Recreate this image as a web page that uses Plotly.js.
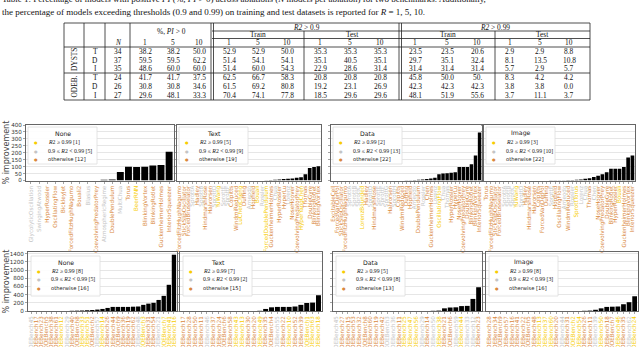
<!DOCTYPE html>
<html>
<head>
<meta charset="utf-8">
<script src="https://cdn.plot.ly/plotly-3.0.1.min.js"></script>
<style>
  html, body { margin: 0; padding: 0; background: #fff; }
  #chart { width: 640px; height: 347px; }
</style>
</head>
<body>
<div id="chart"></div>
<script>
// ---- table data ----
const groupNames = ['DYSTS', 'ODEB.'];
const ablations = ['T', 'D', 'I', 'T', 'D', 'I'];
const nModels = [34, 37, 35, 24, 26, 27];
const piPositive = [['38.2','38.2','50.0'],['59.5','59.5','62.2'],['48.6','60.0','60.0'],['41.7','41.7','37.5'],['30.8','30.8','34.6'],['29.6','48.1','33.3']];
const r2_09Train = [['52.9','52.9','50.0'],['51.4','54.1','54.1'],['51.4','60.0','54.3'],['62.5','66.7','58.3'],['61.5','69.2','80.8'],['70.4','74.1','77.8']];
const r2_09Test = [['35.3','35.3','35.3'],['35.1','40.5','35.1'],['22.9','28.6','31.4'],['20.8','20.8','20.8'],['19.2','23.1','26.9'],['18.5','29.6','29.6']];
const r2_099Train = [['23.5','23.5','20.6'],['29.7','35.1','32.4'],['31.4','31.4','31.4'],['45.8','50.0','50.'],['42.3','42.3','42.3'],['48.1','51.9','55.6']];
const r2_099Test = [['2.9','2.9','8.8'],['8.1','13.5','10.8'],['5.7','2.9','5.7'],['8.3','4.2','4.2'],['3.8','3.8','0.0'],['3.7','11.1','3.7']];
const rValues = ['1', '5', '10'];

// ---- bar data: DYSTS (top row) ----
const dystsNoneNames = ['GlycolyticOscillation','SwingingAtwood','HyperRossler','OscillatingFlow','BickleyJet','ForcedFitzHughNagumo','Bouali2','Blasius','CoevolvingPredatorPrey','AtmosphericRegime','DoublePendulum','MultiChua','Torus','BeerRNN','BlinkingVortex','BlinkingRotlet','GuckenheimerHolmes','InteriorSqueezer'];
const dystsNoneVals = [0,0,0,0,0,0,0,0,0,5,8,62,100,98,100,108,112,208];
const dystsNoneCats = ['g','g','o','o','o','o','o','g','o','g','o','g','o','y','o','o','o','o'];

const dystsTextNames = ['ForcedFitzHughNagumo','StickSlipOscillator','ForcedBrusselator','SprottA','Hadley','SprottB','HindmarshRose','Halvorsen','SprottD','YuWang','SprottE','SprottF','Colpitts','WindmiReduced','LuChenCheng','Duffing','Arneodo','Hopfield','Bouali','Rossler','ForcedDoublePendulum','GuckenheimerHolmes','Chua','HyperRossler','HyperLu','Lorenz','NoseHoover','CoevolvingPredatorPrey','HyperYangChen','Thomas','DoubleGyre','BlinkingRotlet','BlinkingVortex'];
const dystsTextVals = [0,0,0,0,0,0,0,0,0,0,0,0,0,0,0,0,0,0,0,0,1,3,5,8,10,12,14,20,24,45,90,97,102];
const dystsTextCats = ['o','o','o','g','o','g','o','o','g','y','g','g','o','o','y','o','g','o','y','g','y','o','g','o','o','g','o','o','y','o','o','o','o'];

const dystsDataNames = ['ExcitableCell','ForcedVanDerPol','StickSlipOscillator','ForcedFitzHughNagumo','SprottA','SprottB','SprottC','LorenzBounded','Hadley','SprottD','HindmarshRose','SprottE','SprottF','SprottG','Halvorsen','SprottH','Colpitts','WindmiReduced','Duffing','Hopfield','Arneodo','DoublePendulum','Rossler','Chen','GuckenheimerHolmes','Lorenz','OscillatingFlow','Chua','Thomas','HyperRossler','HyperLu','NoseHoover','CoevolvingPredatorPrey','DoubleGyre','BlinkingRotlet','BlinkingVortex','InteriorSqueezer'];
const dystsDataVals = [0,0,0,0,0,0,0,0,0,0,0,0,0,0,0,0,0,0,1,2,3,5,8,10,15,20,45,50,52,55,60,97,97,97,118,180,346];
const dystsDataCats = ['o','o','o','o','g','g','g','y','o','g','o','g','g','g','o','g','o','o','o','o','g','o','g','o','o','g','y','g','g','o','o','o','o','o','o','o','o'];

const dystsImageNames = ['Torus','ForcedFitzHughNagumo','StickSlipOscillator','ForcedBrusselator','SprottA','SprottB','SprottC','YuWang','SprottD','Hadley','HindmarshRose','Halvorsen','Colpitts','ForcedVanDerPol','Duffing','SprottE','Hopfield','OscillatingFlow','Arneodo','WindmiReduced','Rossler','SprottTorus','Lorenz','Chua','Thomas','Chen','NoseHoover','CoevolvingPredatorPrey','DoubleGyre','BlinkingRotlet','HyperRossler','Bouali','GuckenheimerHolmes','BlinkingVortex','InteriorSqueezer'];
const dystsImageVals = [0,0,0,0,0,0,0,0,0,0,0,0,0,0,0,1,1,2,2,3,4,5,8,12,17,25,35,45,60,85,85,85,97,165,181];
const dystsImageCats = ['o','o','o','o','g','g','g','y','g','o','o','o','o','o','o','g','o','o','g','o','g','y','g','g','o','g','o','o','o','o','o','y','o','o','o'];

// ---- bar data: ODEBench (bottom row) ----
const odeNoneIds = [45,17,23,5,38,61,12,29,40,8,33,51,2,57,14,26,44,9,36,19,62,48,3,31,54,21,7,41,16];
const odeNoneVals = [0,0,0,0,0,0,0,0,5,8,12,18,25,35,50,75,100,100,100,100,105,110,150,180,200,270,370,640,1375];
const odeNoneCats = ['g','o','o','o','o','o','y','g','o','o','y','y','o','g','y','o','o','o','o','o','o','g','y','o','o','g','y','y','y'];

const odeTextIds = [17,28,50,11,46,37,24,6,58,43,13,30,20,49,35,4,55,22,10,52,39,1,63,18];
const odeTextVals = [0,0,0,0,0,0,0,0,0,0,0,0,0,5,50,90,100,100,100,110,150,195,205,385];
const odeTextCats = ['o','o','o','o','g','o','o','o','o','y','y','o','o','y','o','o','g','o','y','o','o','y','y','y'];

const odeDataIds = [45,27,15,53,32,8,60,19,42,3,36,11,25,47,56,29,14,50,38,21,6,59,44,33,12,23];
const odeDataVals = [0,0,0,0,0,0,0,0,0,0,0,0,0,0,0,0,0,5,10,65,85,90,120,125,295,580];
const odeDataCats = ['g','o','o','o','o','o','o','o','o','g','g','o','y','y','y','g','o','g','y','o','o','g','y','g','g','o'];

const odeImageIds = [28,34,9,57,16,41,22,5,48,13,37,60,20,44,31,2,54,26,11,39,50,18,7,46,35,62,24];
const odeImageVals = [0,0,0,0,0,0,0,0,0,0,0,0,0,0,0,0,0,5,10,30,65,100,105,110,165,215,360];
const odeImageCats = ['o','o','o','o','o','o','o','o','o','y','y','y','o','g','o','y','y','o','o','g','y','o','o','y','o','g','y'];

const ablationTitles = ['None', 'Text', 'Data', 'Image'];
const topYTicks = [0,50,100,150,200,250,300,350,400];
const bottomYTicks = [0,200,400,600,800,1000,1200,1400];

// ---- layout helpers (pixel geometry of the page) ----
const W = 640, H = 347;
const px = v => v / W;
const py = v => 1 - v / H;

const YELLOW = '#F7CC00', GRAY = '#C4C4C4', ORANGE = '#D9883C';
const catColor = { y: YELLOW, g: GRAY, o: ORANGE };
const SANS = 'DejaVu Sans, sans-serif';
const SERIF = 'Liberation Serif, Times New Roman, serif';

const panels = [
  { names: dystsNoneNames, vals: dystsNoneVals, cats: dystsNoneCats },
  { names: dystsTextNames, vals: dystsTextVals, cats: dystsTextCats },
  { names: dystsDataNames, vals: dystsDataVals, cats: dystsDataCats },
  { names: dystsImageNames, vals: dystsImageVals, cats: dystsImageCats },
  { names: odeNoneIds.map(n => 'ODEBench' + n), vals: odeNoneVals, cats: odeNoneCats },
  { names: odeTextIds.map(n => 'ODEBench' + n), vals: odeTextVals, cats: odeTextCats },
  { names: odeDataIds.map(n => 'ODEBench' + n), vals: odeDataVals, cats: odeDataCats },
  { names: odeImageIds.map(n => 'ODEBench' + n), vals: odeImageVals, cats: odeImageCats },
];

// panel boxes in page pixels: [left, right, top, bottom]
const boxes = [
  [26,174,125,180.5],[177,321,125,180.5],[331,482,125,180.5],[484,635,125,180.5],
  [28,177,252,311],[180,322,252,311],[333,482,252,311],[486,638,252,311],
];

const data = [];
const layout = {
  width: W, height: H,
  margin: { l: 0, r: 0, t: 0, b: 0 },
  paper_bgcolor: '#fff', plot_bgcolor: '#fff',
  showlegend: false,
  bargap: 0.15,
  font: { family: SANS, color: '#333' },
  annotations: [], shapes: [],
};

panels.forEach((p, i) => {
  const k = i === 0 ? '' : String(i + 1);
  const b = boxes[i];
  const top = i < 4;
  data.push({
    type: 'bar', x: p.names, y: p.vals,
    xaxis: 'x' + k, yaxis: 'y' + k,
    marker: { color: '#000', line: { width: 0 } },
  });
  layout['xaxis' + k] = {
    domain: [px(b[0]), px(b[1])], anchor: 'y' + k,
    type: 'category', tickmode: 'array', tickvals: p.names,
    ticktext: p.names.map((n, j) => `<span style="color:${catColor[p.cats[j]]}">${n}</span>`),
    tickangle: -90, tickfont: { size: 5.6, family: SANS },
    ticks: 'outside', ticklen: 2, tickcolor: '#666', tickwidth: 0.6,
    showgrid: false, showline: true, linecolor: '#666', linewidth: 1, mirror: true,
    range: [-0.6, p.names.length - 0.4], fixedrange: true,
  };
  layout['yaxis' + k] = {
    domain: [py(b[3]), py(b[2])], anchor: 'x' + k,
    range: top ? [0, 400] : [0, 1441],
    tickmode: 'array', tickvals: top ? topYTicks : bottomYTicks,
    showticklabels: i === 0 || i === 4,
    tickfont: { size: 5.6, family: SANS, color: '#333' },
    ticks: 'outside', ticklen: 2, tickcolor: '#666', tickwidth: 0.6,
    showgrid: true, gridcolor: '#E0E0E0', gridwidth: 0.8,
    zeroline: false, showline: true, linecolor: '#666', linewidth: 1, mirror: true,
    fixedrange: true,
  };

  // legend box for the panel
  const lx = b[0] + (top ? 2 : 3), ly = b[2] + (top ? 2 : 4);
  const lw = 69, lh = top ? 37 : 40;
  layout.shapes.push({
    type: 'rect', xref: 'paper', yref: 'paper',
    x0: px(lx), x1: px(lx + lw), y0: py(ly), y1: py(ly + lh),
    fillcolor: 'rgba(255,255,255,0.9)', line: { color: '#DDDDDD', width: 0.8 },
  });
  layout.annotations.push({
    xref: 'paper', yref: 'paper', x: px(lx + lw / 2), y: py(ly + 6),
    text: ablationTitles[i % 4], showarrow: false, xanchor: 'center', yanchor: 'middle',
    font: { size: 6.2, family: SANS, color: '#222' },
  });
  const count = c => p.cats.filter(v => v === c).length;
  const entries = [
    ['y', `<i>R</i>2 ≥ 0.99 [${count('y')}]`, SERIF],
    ['g', `0.9 ≤ <i>R</i>2 &lt; 0.99 [${count('g')}]`, SERIF],
    ['o', `otherwise [${count('o')}]`, SANS],
  ];
  const rowOff = top ? [15, 24, 32] : [15, 23, 32];
  entries.forEach((e, j) => {
    layout.annotations.push({
      xref: 'paper', yref: 'paper', x: px(lx + 8), y: py(ly + rowOff[j]),
      text: '●', showarrow: false, xanchor: 'center', yanchor: 'middle',
      font: { size: 4, color: catColor[e[0]] },
    });
    layout.annotations.push({
      xref: 'paper', yref: 'paper', x: px(lx + 18), y: py(ly + rowOff[j]),
      text: e[1], showarrow: false, xanchor: 'left', yanchor: 'middle',
      font: { size: e[2] === SERIF ? 5.8 : 5.2, family: e[2], color: '#222' },
    });
  });
});

// y-axis titles
[[152.5], [281.5]].forEach(([yc]) => {
  layout.annotations.push({
    xref: 'paper', yref: 'paper', x: px(6), y: py(yc), textangle: -90,
    text: '% improvement', showarrow: false, xanchor: 'center', yanchor: 'middle',
    font: { size: 8, family: SANS, color: '#444' },
  });
});

// ---- caption ----
const captionLine1 = 'Table 1: Percentage of models with positive <i>PI</i> (%, <i>PI</i> &gt; 0) across ablations (<i>N</i> models per ablation) for two benchmarks. Additionally,';
const captionLine2 = 'the percentage of models exceeding thresholds (0.9 and 0.99) on training and test datasets is reported for <i>R</i> = 1, 5, 10.';
[[captionLine1, -1], [captionLine2, 12.5]].forEach(([t, yc]) => {
  layout.annotations.push({
    xref: 'paper', yref: 'paper', x: px(0), y: py(yc), text: t, showarrow: false,
    xanchor: 'left', yanchor: 'middle', font: { size: 9, family: SERIF, color: '#111' },
  });
});

// ---- table ----
const tL = 64, tR = 590, tT = 23, tB = 100;
const colGroupX = 74, colAblX = 95, colNX = 118;
const valueColX = [145,173,199, 229,258,287, 320,350,380, 415,447,477, 510,540,569];
const headerY = [27.5, 34.8, 42.5];
const rowY = [51.3, 60, 68.7, 77.5, 86.3, 95.2];
const TFS = 7.4;
const tAnn = (x, y, text, extra) => layout.annotations.push(Object.assign({
  xref: 'paper', yref: 'paper', x: px(x), y: py(y), text, showarrow: false,
  xanchor: 'center', yanchor: 'middle', font: { size: TFS, family: SERIF, color: '#111' },
}, extra || {}));

tAnn((130 + 212) / 2, 32, '%, <i>PI</i> &gt; 0');
tAnn((212 + 400) / 2, headerY[0], '<i>R2</i> &gt; 0.9');
tAnn((400 + 590) / 2, headerY[0], '<i>R2</i> &gt; 0.99');
['Train', 'Test', 'Train', 'Test'].forEach((t, j) => {
  const edges = [212, 304, 400, 495, 590];
  tAnn((edges[j] + edges[j + 1]) / 2, headerY[1], t);
});
tAnn(colNX, headerY[2], '<i>N</i>');
valueColX.forEach((x, j) => tAnn(x, headerY[2], rValues[j % 3]));

const tableBlocks = [piPositive, r2_09Train, r2_09Test, r2_099Train, r2_099Test];
rowY.forEach((y, r) => {
  tAnn(colAblX, y, ablations[r]);
  tAnn(colNX, y, String(nModels[r]));
  tableBlocks.forEach((blk, bi) => blk[r].forEach((v, c) => tAnn(valueColX[bi * 3 + c], y, v)));
});
tAnn(colGroupX, 60, groupNames[0], { textangle: -90 });
tAnn(colGroupX, 86.5, groupNames[1], { textangle: -90 });

const tLine = (x0, y0, x1, y1, w) => layout.shapes.push({
  type: 'line', xref: 'paper', yref: 'paper',
  x0: px(x0), y0: py(y0), x1: px(x1), y1: py(y1), line: { color: '#222', width: w || 0.8 },
});
tLine(tL, tT, tR, tT); tLine(tL, tB, tR, tB);
tLine(212, 31, tR, 31); tLine(212, 38.5, tR, 38.5);
tLine(tL, 47, tR, 47); tLine(tL, 73, tR, 73);
[tL, 84, 105, 130, 211, 213.5, 399, 401.5, tR].forEach(x => tLine(x, tT, x, tB));
[304, 495].forEach(x => tLine(x, 31, x, tB));

Plotly.newPlot('chart', data, layout, { staticPlot: true, displayModeBar: false });
</script>
</body>
</html>
